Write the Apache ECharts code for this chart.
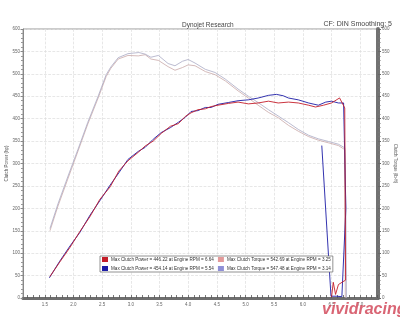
<!DOCTYPE html>
<html>
<head>
<meta charset="utf-8">
<style>
  html, body { margin: 0; padding: 0; background: #fff; }
  #main { width: 400px; height: 320px; }
</style>
<script src="https://cdn.jsdelivr.net/npm/echarts@6/dist/echarts.min.js"></script>
</head>
<body>
<div id="main"></div>
<script>
// dyno run data (engine rpm x1000)
const powerRedRpm = [1.59, 1.76, 1.94, 2.11, 2.29, 2.46, 2.64, 2.79, 2.95, 3.13, 3.25, 3.39, 3.53, 3.69, 3.83, 3.95, 4.05, 4.17, 4.30, 4.40, 4.52, 4.70, 4.87, 5.05, 5.22, 5.40, 5.57, 5.75, 5.92, 6.10, 6.22, 6.36, 6.50, 6.64, 6.73, 6.745, 6.62, 6.57, 6.53, 6.50];
const powerRed = [48, 80, 113, 148, 182, 220, 248, 283, 306, 325, 339, 350, 367, 383, 389, 405, 413, 420, 422, 427, 430, 434, 437, 433, 435, 439, 435, 437, 435, 430, 426, 430, 435, 446.22, 424, 40, 30, 8, 35, 2];

const powerBlueRpm = [1.58, 1.76, 1.94, 2.11, 2.29, 2.46, 2.64, 2.79, 2.95, 3.13, 3.25, 3.39, 3.53, 3.69, 3.83, 3.95, 4.05, 4.17, 4.30, 4.40, 4.52, 4.70, 4.87, 5.05, 5.22, 5.40, 5.54, 5.66, 5.75, 5.92, 6.10, 6.27, 6.40, 6.50, 6.62, 6.71, 6.74, 6.75, 6.68, 6.58, 6.49, 6.33];
const powerBlue = [45, 82, 116, 146, 185, 217, 252, 279, 309, 327, 336, 354, 369, 380, 392, 403, 416, 418, 425, 425, 432, 436, 440, 442, 446, 452, 454.14, 451, 446, 442, 435, 430, 437, 439, 435, 435, 436, 200, 3, 4, 4, 340];

const torqueRedRpm = [1.59, 1.73, 1.90, 2.08, 2.25, 2.43, 2.57, 2.65, 2.78, 2.95, 3.13, 3.25, 3.35, 3.48, 3.65, 3.77, 3.90, 4.00, 4.12, 4.30, 4.47, 4.65, 4.87, 5.05, 5.22, 5.40, 5.57, 5.75, 5.92, 6.10, 6.27, 6.45, 6.62, 6.73, 6.74];
const torqueRed = [150, 205, 265, 328, 388, 446, 494, 512, 533, 541, 540, 542.69, 533, 530, 516, 508, 514, 520, 518, 505, 498, 484, 462, 446, 430, 414, 402, 385, 372, 360, 352, 346, 340, 331, 0];

const torqueBlueRpm = [1.59, 1.73, 1.90, 2.08, 2.25, 2.43, 2.57, 2.65, 2.78, 2.95, 3.14, 3.25, 3.35, 3.48, 3.65, 3.77, 3.90, 4.00, 4.12, 4.30, 4.47, 4.65, 4.87, 5.05, 5.22, 5.40, 5.57, 5.75, 5.92, 6.10, 6.27, 6.45, 6.62, 6.73, 6.75, 6.76];
const torqueBlue = [155, 210, 270, 332, 392, 450, 498, 515, 536, 545, 547.48, 544, 537, 541, 523, 518, 528, 532, 524, 510, 503, 488, 466, 450, 436, 420, 406, 391, 376, 363, 355, 349, 343, 335, 180, 0];

const seriesNames = [
  'Max Clutch Power = 446.22 at Engine RPM = 6.64',
  'Max Clutch Torque = 542.69 at Engine RPM = 3.25',
  'Max Clutch Power = 454.14 at Engine RPM = 5.54',
  'Max Clutch Torque = 547.48 at Engine RPM = 3.14'
];
const xLabels = [1.5, 2.0, 2.5, 3.0, 3.5, 4.0, 4.5, 5.0, 5.5, 6.0, 6.5, 7.0];

// small ticks every 0.1 along the rpm axis
const xMinor = [];
for (let i = 12; i <= 73; i++) xMinor.push(i / 10);

function pairs(xs, ys) {
  return xs.map((x, i) => [x, ys[i]]);
}

const chart = echarts.init(document.getElementById('main'));
const font = 'Liberation Sans, Arial, sans-serif';

const option = {
  backgroundColor: '#ffffff',
  animation: false,
  textStyle: { fontFamily: font },
  title: [
    { text: 'Dynojet Research', left: 177, top: 17, textStyle: { fontSize: 6.5, fontWeight: 'normal', color: '#444', fontFamily: font } },
    { text: 'CF: DIN Smoothing: 5', right: 3, top: 16, textStyle: { fontSize: 7, fontWeight: 'normal', color: '#444', fontFamily: font } }
  ],
  grid: { left: 23, right: 22, top: 29, bottom: 22, outerBoundsMode: 'none', containLabel: false, show: true, borderColor: '#999', borderWidth: 1 },
  legend: {
    data: seriesNames,
    left: 100, top: 256, width: 236,
    orient: 'horizontal',
    icon: 'rect', itemWidth: 6, itemHeight: 5, itemGap: 4,
    padding: [1, 2],
    backgroundColor: '#fff', borderColor: '#777', borderWidth: 0.8,
    textStyle: { fontSize: 4.6, color: '#333', fontFamily: font, padding: [0, 0, 0, -2] }
  },
  xAxis: [
    {
      type: 'value', min: 1.12, max: 7.31,
      axisLine: { lineStyle: { color: '#6e6e6e', width: 3 } },
      axisTick: { customValues: xMinor, inside: true, length: 3, lineStyle: { color: '#555', width: 0.8 } },
      axisLabel: { show: false },
      splitLine: { show: false }
    },
    {
      type: 'value', min: 1.12, max: 7.31, position: 'bottom',
      axisLine: { show: false },
      axisTick: { show: false, customValues: xLabels },
      axisLabel: { customValues: xLabels, formatter: v => v.toFixed(1), fontSize: 4.5, color: '#666', margin: 4 },
      splitLine: { show: true, lineStyle: { color: '#ddd', type: 'dashed', width: 0.7 } }
    }
  ],
  yAxis: [
    {
      type: 'value', min: 0, max: 600, interval: 50,
      name: 'Clutch Power (hp)', nameLocation: 'middle', nameGap: 14, nameMoveOverlap: false,
      nameTextStyle: { fontSize: 4.5, color: '#555' },
      axisLine: { show: true, lineStyle: { color: '#888', width: 1 } },
      axisTick: { show: true, length: 2.5, lineStyle: { color: '#888' } },
      minorTick: { show: true, splitNumber: 5, length: 2, lineStyle: { color: '#999' } },
      axisLabel: { fontSize: 4.5, color: '#666', margin: 3 },
      splitLine: { show: true, lineStyle: { color: '#ddd', type: 'dashed', width: 0.7 } }
    },
    {
      type: 'value', min: 0, max: 600, interval: 50, position: 'right',
      name: 'Clutch Torque (lb-ft)', nameLocation: 'middle', nameGap: 15, nameRotate: -90, nameMoveOverlap: false,
      nameTextStyle: { fontSize: 4.5, color: '#555' },
      axisLine: { show: true, lineStyle: { color: '#727272', width: 4 } },
      axisTick: { show: true, length: 3, lineStyle: { color: '#666' } },
      minorTick: { show: true, splitNumber: 5, length: 2.5, lineStyle: { color: '#777' } },
      axisLabel: { fontSize: 4.5, color: '#666', margin: 4 },
      splitLine: { show: false }
    }
  ],
  graphic: [
    {
      type: 'text', left: 322, top: 302, z: 100,
      style: { text: 'vividracing', fontSize: 16, fontWeight: 'bold', fontStyle: 'italic', fill: '#d24a5c', fontFamily: 'Liberation Sans Narrow, Liberation Sans, sans-serif', opacity: 0.85 }
    }
  ],
  series: [
    { name: seriesNames[0], type: 'line', xAxisIndex: 0, yAxisIndex: 0, data: pairs(powerRedRpm, powerRed), showSymbol: false, color: '#c41e2a', lineStyle: { width: 0.9 }, z: 4 },
    { name: seriesNames[1], type: 'line', xAxisIndex: 0, yAxisIndex: 1, data: pairs(torqueRedRpm, torqueRed), showSymbol: false, color: '#e39a9a', lineStyle: { width: 0.8, color: '#c9a8a8' }, z: 2 },
    { name: seriesNames[2], type: 'line', xAxisIndex: 0, yAxisIndex: 0, data: pairs(powerBlueRpm, powerBlue), showSymbol: false, color: '#1c1ca6', lineStyle: { width: 0.9 }, z: 3 },
    { name: seriesNames[3], type: 'line', xAxisIndex: 0, yAxisIndex: 1, data: pairs(torqueBlueRpm, torqueBlue), showSymbol: false, color: '#8f8fd6', lineStyle: { width: 0.8, color: '#aaaac4' }, z: 2 }
  ]
};

chart.setOption(option);
</script>
</body>
</html>
